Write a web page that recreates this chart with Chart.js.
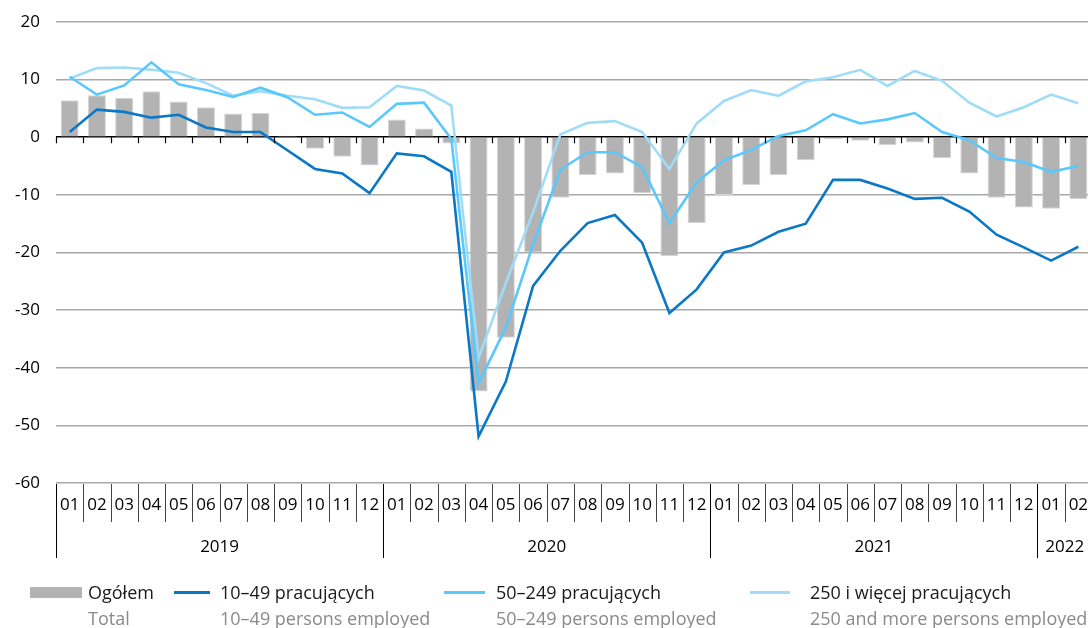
<!DOCTYPE html>
<html>
<head>
<meta charset="utf-8">
<script src="https://cdn.jsdelivr.net/npm/chart.js@4/dist/chart.umd.min.js"></script>
<style>
    body { margin: 0; background: #fff; font-family: "Open Sans", "Noto Sans", sans-serif; }
    #wrap { position: relative; width: 1088px; height: 628px; overflow: hidden; }
    #chart { position: absolute; left: 0; top: 0; }
    .lg { position: absolute; font-size: 18px; line-height: 22px; white-space: nowrap; }
    .lg .pl { color: #1a1a1a; }
    .lg .en { color: #8a8a8a; margin-top: 4px; }
    .sw { position: absolute; }
</style>
</head>
<body>
<div id="wrap">
    <canvas id="chart" width="1092" height="628"></canvas>

    <div class="sw" style="left:30px;top:587px;width:52px;height:11px;background:#b3b3b3;"></div>
    <div class="lg" style="left:88px;top:581px;"><div class="pl">Ogółem</div><div class="en">Total</div></div>

    <div class="sw" style="left:174px;top:591px;width:36px;height:3px;background:#0b78c6;"></div>
    <div class="lg" style="left:220px;top:581px;"><div class="pl">10–49 pracujących</div><div class="en">10–49 persons employed</div></div>

    <div class="sw" style="left:444px;top:591px;width:41px;height:3px;background:#5ac8fa;"></div>
    <div class="lg" style="left:496px;top:581px;"><div class="pl">50–249 pracujących</div><div class="en">50–249 persons employed</div></div>

    <div class="sw" style="left:750px;top:591px;width:40px;height:3px;background:#a0dcf8;"></div>
    <div class="lg" style="left:810px;top:581px;"><div class="pl">250 i więcej pracujących</div><div class="en">250 and more persons employed</div></div>
</div>

<script>
// miesiące 2019-01 .. 2022-02
const months = [
    '01', '02', '03', '04', '05', '06', '07', '08', '09', '10', '11', '12',
    '01', '02', '03', '04', '05', '06', '07', '08', '09', '10', '11', '12',
    '01', '02', '03', '04', '05', '06', '07', '08', '09', '10', '11', '12',
    '01', '02'
];
const years = ['2019', '2020', '2021', '2022'];
const yearStart = [0, 12, 24, 36];
const yTicks = [20, 10, 0, -10, -20, -30, -40, -50, -60];

// Ogółem
const total = [
    6.4, 7.3, 6.8, 8.0, 6.2, 5.2, 4.1, 4.2, 0.2, -2.0, -3.4, -4.9,
    3.1, 1.5, -1.1, -44.1, -34.8, -20.0, -10.5, -6.6, -6.3, -9.7, -20.6, -14.9,
    -10.0, -8.3, -6.6, -4.0, -0.3, -0.6, -1.4, -0.9, -3.6, -6.3, -10.5, -12.2,
    -12.4, -10.7
];
// 10–49 pracujących
const small = [
    0.9, 4.8, 4.4, 3.4, 3.9, 1.7, 0.9, 0.9, -2.3, -5.5, -6.3, -9.7,
    -2.8, -3.3, -6.0, -51.9, -42.4, -25.8, -19.7, -14.9, -13.5, -18.3, -30.5, -26.4,
    -20.0, -18.8, -16.4, -15.0, -7.4, -7.4, -8.9, -10.7, -10.5, -12.9, -16.9, -19.1,
    -21.4, -19.0
];
// 50–249 pracujących
const medium = [
    10.5, 7.4, 9.0, 13.0, 9.2, 8.2, 7.0, 8.6, 6.9, 3.9, 4.3, 1.8,
    5.8, 6.0, -0.3, -42.7, -33.0, -18.6, -5.6, -2.6, -2.6, -5.2, -14.9, -7.8,
    -4.0, -2.2, 0.2, 1.2, 4.0, 2.4, 3.1, 4.2, 0.9, -0.5, -3.6, -4.3,
    -6.0, -5.0
];
// 250 i więcej pracujących
const large = [
    10.2, 12.0, 12.1, 11.7, 11.2, 9.4, 7.2, 8.0, 7.2, 6.6, 5.1, 5.2,
    8.9, 8.1, 5.5, -38.3, -25.3, -13.0, 0.5, 2.5, 2.8, 0.9, -5.5, 2.4,
    6.3, 8.2, 7.2, 9.7, 10.4, 11.7, 8.9, 11.5, 9.8, 6.0, 3.6, 5.2,
    7.4, 5.9
];

const FONT = '"Open Sans", "Noto Sans", sans-serif';

// oś X rysowana ręcznie: miesiące, lata, kreski podziału
const axisDecor = {
    id: 'axisDecor',
    afterDraw(chart) {
        const { ctx, chartArea, scales: { x, y } } = chart;
        const half = (x.getPixelForValue(1) - x.getPixelForValue(0)) / 2;
        const y0 = y.getPixelForValue(0);
        const bottom = chartArea.bottom;

        ctx.save();
        // kreski pod linią zera
        ctx.strokeStyle = '#000';
        ctx.lineWidth = 1.2;
        months.forEach((m, i) => {
            const xl = Math.round(x.getPixelForValue(i) - half) + 0.5;
            ctx.beginPath();
            ctx.moveTo(xl, y0);
            ctx.lineTo(xl, y0 + 6);
            ctx.stroke();
        });

        // podziały miesięcy
        ctx.strokeStyle = '#444';
        ctx.lineWidth = 1;
        months.forEach((m, i) => {
            if (yearStart.includes(i)) return;
            const xl = Math.round(x.getPixelForValue(i) - half) + 0.5;
            ctx.beginPath();
            ctx.moveTo(xl, bottom + 1);
            ctx.lineTo(xl, bottom + 39);
            ctx.stroke();
        });
        // podziały lat
        ctx.strokeStyle = '#000';
        yearStart.forEach(i => {
            const xl = Math.round(x.getPixelForValue(i) - half) + 0.5;
            ctx.beginPath();
            ctx.moveTo(xl, bottom + 1);
            ctx.lineTo(xl, bottom + 75);
            ctx.stroke();
        });

        ctx.fillStyle = '#000';
        ctx.font = '17px ' + FONT;
        ctx.textAlign = 'center';
        ctx.textBaseline = 'middle';
        months.forEach((m, i) => {
            ctx.fillText(m, x.getPixelForValue(i), bottom + 22);
        });
        years.forEach((yr, k) => {
            const first = yearStart[k];
            const last = k + 1 < yearStart.length ? yearStart[k + 1] - 1 : months.length - 1;
            const cx = (x.getPixelForValue(first) + x.getPixelForValue(last)) / 2;
            ctx.fillText(yr, cx, bottom + 64);
        });
        ctx.restore();
    }
};

const ctx = document.getElementById('chart').getContext('2d');
new Chart(ctx, {
    type: 'bar',
    data: {
        labels: months.map((m, i) => i),
        datasets: [
            {
                type: 'line',
                label: '10–49 pracujących',
                data: small,
                borderColor: '#0b78c6',
                borderWidth: 2.6,
                pointRadius: 0,
                tension: 0,
                order: 1
            },
            {
                type: 'line',
                label: '50–249 pracujących',
                data: medium,
                borderColor: '#5ac8fa',
                borderWidth: 2.6,
                pointRadius: 0,
                tension: 0,
                order: 2
            },
            {
                type: 'line',
                label: '250 i więcej pracujących',
                data: large,
                borderColor: '#a0dcf8',
                borderWidth: 2.6,
                pointRadius: 0,
                tension: 0,
                order: 3
            },
            {
                label: 'Ogółem',
                data: total,
                backgroundColor: '#b3b3b3',
                borderColor: '#d4d4d4',
                borderWidth: 1,
                barPercentage: 0.66,
                categoryPercentage: 1,
                order: 4
            }
        ]
    },
    options: {
        responsive: false,
        animation: false,
        layout: {
            padding: { top: 22, bottom: 145, left: 0, right: 0 }
        },
        plugins: {
            legend: { display: false },
            tooltip: { enabled: false }
        },
        scales: {
            x: {
                display: false,
                offset: true
            },
            y: {
                min: -60,
                max: 20,
                afterFit(scale) {
                    scale.width = 56;
                    scale.paddingTop = 0;
                    scale.paddingBottom = 0;
                },
                afterBuildTicks(scale) {
                    scale.ticks = yTicks.map(v => ({ value: v }));
                },
                border: { display: false },
                grid: {
                    drawTicks: false,
                    color: c => c.tick && c.tick.value === 0 ? '#000' : '#a8a8a8',
                    lineWidth: 1.6
                },
                ticks: {
                    padding: 16,
                    color: '#000',
                    font: { size: 17, family: FONT }
                }
            }
        }
    },
    plugins: [axisDecor]
});
</script>
</body>
</html>
